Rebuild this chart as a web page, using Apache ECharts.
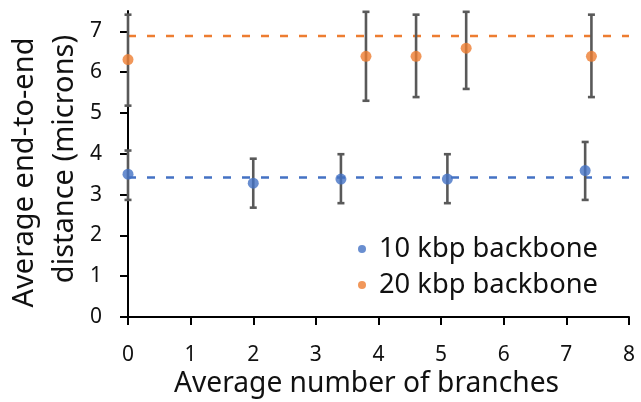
<!DOCTYPE html>
<html><head><meta charset="utf-8">
<script src="https://cdn.jsdelivr.net/npm/echarts@6/dist/echarts.min.js"></script>
<style>html,body{margin:0;padding:0;background:#fff}#c{width:641px;height:402px}</style>
</head><body><div id="c"></div>
<script>
// Data
var seriesNames = ['10 kbp backbone', '20 kbp backbone'];
var x10 = [0, 2.0, 3.4, 5.1, 7.3];
var y10 = [3.5, 3.28, 3.38, 3.38, 3.59];
var lo10 = [2.87, 2.68, 2.79, 2.79, 2.87];
var hi10 = [4.08, 3.88, 3.99, 3.99, 4.29];
var x20 = [0, 3.8, 4.6, 5.4, 7.4];
var y20 = [6.31, 6.39, 6.39, 6.59, 6.39];
var lo20 = [5.18, 5.30, 5.39, 5.59, 5.39];
var hi20 = [7.41, 7.48, 7.41, 7.48, 7.41];
var mean10 = 3.42;
var mean20 = 6.89;
var xTicks = [0, 1, 2, 3, 4, 5, 6, 7, 8];
var yTicks = [0, 1, 2, 3, 4, 5, 6, 7];
var xTitle = 'Average number of branches';
var yTitleLines = ['Average end-to-end', 'distance (microns)'];

var FONT = 'Noto Sans';
var BLUE = '#4472C4', ORANGE = '#ED7D31', BAR = '#595959', TXT = '#111';

function pts(xs, ys) { return xs.map(function (x, i) { return [x, ys[i]]; }); }
function errs(xs, lo, hi) { return xs.map(function (x, i) { return [x, lo[i], hi[i]]; }); }

function errorRender(params, api) {
  var x = api.value(0), lo = api.value(1), hi = api.value(2);
  var pLo = api.coord([x, lo]), pHi = api.coord([x, hi]);
  var w = 3.5;
  var st = { stroke: BAR, lineWidth: 2.6 };
  return {
    type: 'group',
    children: [
      { type: 'line', shape: { x1: pLo[0], y1: pLo[1], x2: pHi[0], y2: pHi[1] }, style: st },
      { type: 'line', shape: { x1: pLo[0] - w, y1: pLo[1], x2: pLo[0] + w, y2: pLo[1] }, style: st },
      { type: 'line', shape: { x1: pHi[0] - w, y1: pHi[1], x2: pHi[0] + w, y2: pHi[1] }, style: st }
    ]
  };
}

var chart = echarts.init(document.getElementById('c'), null, { renderer: 'canvas' });
chart.setOption({
  animation: false,
  textStyle: { fontFamily: FONT },
  grid: { left: 128, right: 12, top: 11, bottom: 85, containLabel: false, outerBoundsMode: 'none' },
  legend: {
    data: [{ name: seriesNames[0], icon: 'circle' }, { name: seriesNames[1], icon: 'circle' }],
    orient: 'vertical', left: 353, top: 230,
    itemWidth: 8, itemHeight: 8, itemGap: 8,
    textStyle: { fontFamily: FONT, fontSize: 27.3, lineHeight: 28, color: TXT, padding: [0, 0, 0, 8] }
  },
  xAxis: {
    type: 'value', min: 0, max: 8, interval: 1,
    name: xTitle, nameLocation: 'middle', nameGap: 53, nameMoveOverlap: false,
    nameTextStyle: { fontFamily: FONT, fontSize: 28.2, color: TXT, padding: [0, 24, 0, 0] },
    axisLine: { onZero: false, lineStyle: { color: '#000', width: 2 } },
    axisTick: { show: true, length: 8, lineStyle: { color: '#000', width: 2 }, customValues: xTicks },
    axisLabel: { fontFamily: FONT, fontSize: 21, color: TXT, margin: 28, customValues: xTicks },
    splitLine: { show: false }
  },
  yAxis: {
    type: 'value', min: 0, max: 7.5, interval: 1,
    name: '{a|' + yTitleLines[0] + '}\n{b|' + yTitleLines[1] + '}',
    nameLocation: 'middle', nameGap: 43, nameRotate: 90, nameMoveOverlap: false,
    nameTextStyle: {
      fontFamily: FONT, fontSize: 29, color: TXT, lineHeight: 40,
      rich: {
        a: { fontFamily: FONT, fontSize: 29, color: TXT, lineHeight: 40, padding: [0, 17, 0, 0] },
        b: { fontFamily: FONT, fontSize: 29, color: TXT, lineHeight: 40, padding: [0, 0, 0, 10] }
      }
    },
    axisLine: { show: true, onZero: false, lineStyle: { color: '#000', width: 2 } },
    axisTick: { show: true, length: 8, lineStyle: { color: '#000', width: 2 }, customValues: yTicks },
    axisLabel: { fontFamily: FONT, fontSize: 21, color: TXT, margin: 26, customValues: yTicks },
    splitLine: { show: false }
  },
  series: [
    { type: 'line', name: 'mean10', data: [[0, mean10], [8, mean10]], symbol: 'none', silent: true,
      lineStyle: { color: BLUE, width: 2.5, type: [8, 11] }, z: 1 },
    { type: 'line', name: 'mean20', data: [[0, mean20], [8, mean20]], symbol: 'none', silent: true,
      lineStyle: { color: ORANGE, width: 2.5, type: [8, 11] }, z: 1 },
    { type: 'custom', name: 'err10', data: errs(x10, lo10, hi10), renderItem: errorRender, z: 2 },
    { type: 'custom', name: 'err20', data: errs(x20, lo20, hi20), renderItem: errorRender, z: 2 },
    { type: 'scatter', name: seriesNames[0], data: pts(x10, y10), symbolSize: 11,
      itemStyle: { color: BLUE }, z: 3 },
    { type: 'scatter', name: seriesNames[1], data: pts(x20, y20), symbolSize: 11,
      itemStyle: { color: ORANGE }, z: 3 }
  ]
});
</script></body></html>
